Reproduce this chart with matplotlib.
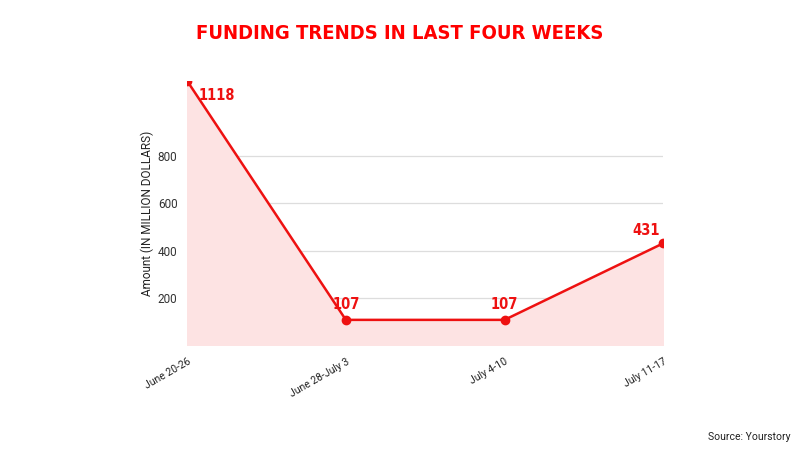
import matplotlib.pyplot as plt

weeks = ["June 20-26", "June 28-July 3", "July 4-10", "July 11-17"]
amounts = [1118, 107, 107, 431]
yticks = [200, 400, 600, 800]

red = "#ee1111"
plt.rcParams["font.family"] = ["Roboto", "DejaVu Sans"]

fig = plt.figure(figsize=(8, 4.5), dpi=100)
ax = fig.add_axes([0.234, 0.233, 0.595, 0.587])

x = list(range(len(weeks)))
ax.fill_between(x, amounts, 0, color="#fde3e3", zorder=1)
ax.plot(x, amounts, color=red, lw=1.8, marker="o", ms=6, zorder=3, clip_on=True)

ax.set_xlim(0, len(weeks) - 1)
ax.set_ylim(0, 1118)
ax.set_yticks(yticks)
ax.set_yticklabels([str(v) for v in yticks], fontsize=8.5, color="#333333")
ax.grid(axis="y", color="#dddddd", lw=0.9, zorder=0)
ax.set_axisbelow(True)
ax.tick_params(length=0, pad=7)
for s in ax.spines.values():
    s.set_visible(False)

ax.set_xticks(x)
ax.set_xticklabels(weeks, rotation=30, ha="right", rotation_mode="anchor", fontsize=7.5, color="#222222")
ax.tick_params(axis="x", pad=8)

ax.set_ylabel("Amount (IN MILLION DOLLARS)", fontsize=8.5, color="#222222", labelpad=3)

# value labels
lab = dict(color=red, fontsize=10.5, fontweight="bold", family="DejaVu Sans", fontstretch="condensed")
ax.annotate(str(amounts[0]), (0, amounts[0]), xytext=(8, -14), textcoords="offset points", **lab)
for i in (1, 2):
    ax.annotate(str(amounts[i]), (i, amounts[i]), xytext=(0, 8), textcoords="offset points",
                ha="center", **lab)
ax.annotate(str(amounts[3]), (3, amounts[3]), xytext=(-12, 6), textcoords="offset points",
            ha="center", **lab)

fig.text(0.5, 0.925, "FUNDING TRENDS IN LAST FOUR WEEKS", ha="center", va="center",
         color="#ff0000", fontsize=14.5, fontweight="bold", family="DejaVu Sans", fontstretch="condensed")
fig.text(0.988, 0.03, "Source: Yourstory", ha="right", va="center", fontsize=7.5, color="#222222")

fig.savefig("out.png", dpi=100)
